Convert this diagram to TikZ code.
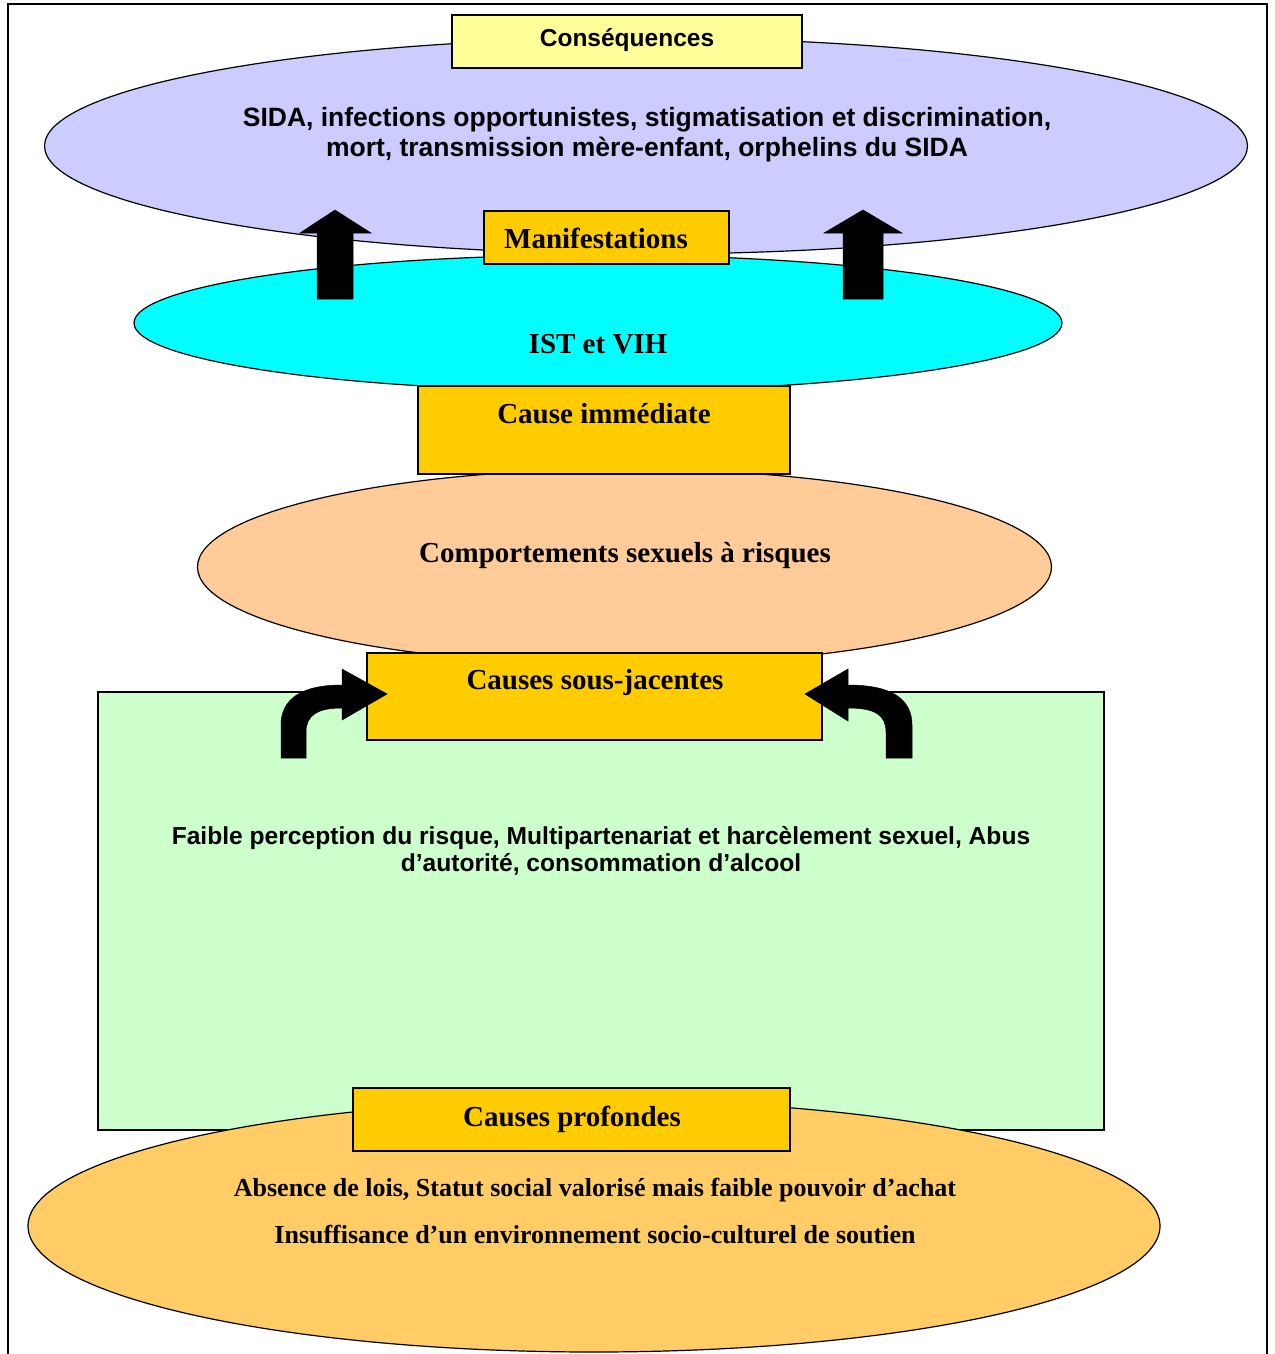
\documentclass[tikz,border=0pt]{standalone}
\usepackage{fontspec}
\setmainfont{Liberation Serif}
\setsansfont{Liberation Sans}
\usetikzlibrary{shapes.geometric}
\definecolor{lavender}{HTML}{CCCCFF}
\definecolor{cyanfill}{HTML}{00FFFF}
\definecolor{peach}{HTML}{FFCC99}
\definecolor{mint}{HTML}{CCFFCC}
\definecolor{apricot}{HTML}{FFCC66}
\definecolor{gold}{HTML}{FFCC00}
\definecolor{paleyellow}{HTML}{FFFF99}
\tikzset{
  oval/.style={ellipse, draw=black, line width=1.2pt, inner sep=0pt},
  labelbox/.style={draw=black, line width=1.2pt, fill=gold, inner sep=0pt},
  sanstext/.style={font=\sffamily\bfseries\fontsize{24.5}{30}\selectfont, align=center, inner sep=0pt},
  toptext/.style={font=\sffamily\bfseries\fontsize{26.5}{30}\selectfont, align=center, inner sep=0pt},
  greentext/.style={font=\sffamily\bfseries\fontsize{24.6}{27.5}\selectfont, align=center, inner sep=0pt},
  seriftext/.style={font=\rmfamily\bfseries\fontsize{29}{34}\selectfont, align=center, inner sep=0pt},
  smallserif/.style={font=\rmfamily\bfseries\fontsize{26}{30}\selectfont, align=center, inner sep=0pt},
  blockarrow/.style={fill=black, draw=black, line width=0.5pt}
}
\begin{document}
\begin{tikzpicture}[x=1pt,y=-1pt]
\useasboundingbox (0,0) rectangle (1274,1354);
% frame
\draw[line width=2pt] (8,1360) -- (8,4) -- (1267,4) -- (1267,1360);

% top ellipse
\node[oval, fill=lavender, minimum width=1203pt, minimum height=216pt] (cons) at (646,146) {};
\node[toptext] (constext) at (647,135) {SIDA, infections opportunistes, stigmatisation et discrimination,\\mort, transmission mère-enfant, orphelins du SIDA};
\node[labelbox, fill=paleyellow, minimum width=350pt, minimum height=53pt] (consbox) at (627,41.5) {};
\node[sanstext] (conslabel) at (627,40) {Conséquences};

% cyan ellipse
\node[oval, fill=cyanfill, minimum width=928pt, minimum height=136pt] (ist) at (598,323) {};
\node[seriftext] (isttext) at (598,344) {IST et VIH};
\node[labelbox, minimum width=245pt, minimum height=53pt] (manbox) at (606.5,237.5) {};
\node[seriftext] (manlabel) at (596,238) {Manifestations};

% up arrows
\draw[blockarrow] (317,299) -- (317,233) -- (300,233) -- (335,210) -- (371,233) -- (353,233) -- (353,299) -- cycle;
\draw[blockarrow] (843,299) -- (843,233) -- (824,233) -- (863,210) -- (902,233) -- (883,233) -- (883,299) -- cycle;

% peach ellipse
\node[oval, fill=peach, minimum width=854pt, minimum height=196pt] (comp) at (624.5,567) {};
\node[seriftext] (comptext) at (625,556) {Comportements sexuels à risques};
\node[labelbox, minimum width=372pt, minimum height=88pt] (immbox) at (604,430) {};
\node[seriftext] (immlabel) at (604,414) {Cause immédiate};

% green rectangle
\node[draw=black, line width=1.2pt, fill=mint, minimum width=1006pt, minimum height=438pt, inner sep=0pt] (sous) at (601,911) {};
\node[greentext] (soustext) at (601,851) {Faible perception du risque, Multipartenariat et harcèlement sexuel, Abus\\d’autorité, consommation d’alcool};
\node[labelbox, minimum width=455pt, minimum height=87pt] (sousbox) at (594.5,696.5) {};
\node[seriftext] (souslabel) at (595,683) {Causes sous-jacentes};

% curved arrows
\draw[blockarrow] (281,758) -- (281,725) .. controls (281,700) and (300,685) .. (342,685) -- (342,669) -- (387,694) -- (342,720) -- (342,708) .. controls (318,708) and (306,715) .. (306,732) -- (306,758) -- cycle;
\draw[blockarrow] (912,758) -- (912,725) .. controls (912,700) and (893,685) .. (848,685) -- (848,669) -- (805,694) -- (848,721) -- (848,708) .. controls (875,708) and (886,715) .. (886,732) -- (886,758) -- cycle;

% bottom ellipse
\node[oval, fill=apricot, minimum width=1132pt, minimum height=252pt] (prof) at (594,1226) {};
\node[smallserif] (proftext1) at (595,1190) {Absence de lois, Statut social valorisé mais faible pouvoir d’achat};
\node[smallserif] (proftext2) at (595,1234) {Insuffisance d’un environnement socio-culturel de soutien};
\node[labelbox, minimum width=437pt, minimum height=63pt] (profbox) at (571.5,1119.5) {};
\node[seriftext] (proflabel) at (572,1119) {Causes profondes};
\end{tikzpicture}
\end{document}
